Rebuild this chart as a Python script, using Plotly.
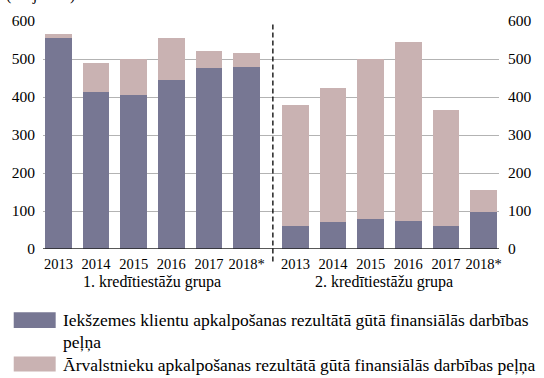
import plotly.graph_objects as go

# Profit from financial activities, million euro
years = ["2013", "2014", "2015", "2016", "2017", "2018*"]
groups = ["1. kredītiestāžu grupa", "2. kredītiestāžu grupa"]

domestic_g1 = [556, 413, 404, 446, 477, 480]
total_g1 = [566, 490, 500, 555, 521, 516]
domestic_g2 = [61, 71, 79, 74, 61, 97]
total_g2 = [378, 425, 500, 545, 365, 154]

foreign_g1 = [t - d for t, d in zip(total_g1, domestic_g1)]
foreign_g2 = [t - d for t, d in zip(total_g2, domestic_g2)]

series_names = [
    "Iekšzemes klientu apkalpošanas rezultātā gūtā finansiālās darbības",
    "peļņa",
    "Ārvalstnieku apkalpošanas rezultātā gūtā finansiālās darbības peļņa",
]
unit_label = "(milj. eiro)"
y_ticks = [0, 100, 200, 300, 400, 500, 600]

DARK = "#777793"
LIGHT = "#c9b2b2"
FONT = "'Liberation Serif', 'DejaVu Serif', serif"

# x positions: two groups of six bars with a wider gap between the groups
gap = 1.3
x1 = list(range(len(years)))
x2 = [len(years) - 1 + gap + i for i in range(len(years))]
xs = x1 + x2
domestic = domestic_g1 + domestic_g2
foreign = foreign_g1 + foreign_g2

fig = go.Figure()
fig.add_trace(go.Bar(x=xs, y=domestic, marker_color=DARK, width=0.71,
                     marker_line_width=0, showlegend=False))
fig.add_trace(go.Bar(x=xs, y=foreign, marker_color=LIGHT, width=0.71,
                     marker_line_width=0, showlegend=False))
# invisible trace to carry the right-hand axis
fig.add_trace(go.Scatter(x=[xs[0]], y=[0], yaxis="y2", mode="markers",
                         marker_opacity=0, showlegend=False, hoverinfo="skip"))

fig.update_layout(
    width=544, height=378,
    margin=dict(l=42, r=35, t=19, b=129),
    barmode="stack",
    plot_bgcolor="white", paper_bgcolor="white",
    font=dict(family=FONT, size=15, color="black"),
    xaxis=dict(range=[-0.41, xs[-1] + 0.41], tickvals=xs, ticktext=years * 2,
               showgrid=False, zeroline=False, showline=False,
               ticks="", tickfont=dict(family=FONT, size=14.5), ticklabelstandoff=4),
    yaxis=dict(range=[0, 600], tickvals=y_ticks, showgrid=True,
               gridcolor="#b3b3b3", gridwidth=1, zeroline=False, ticks="",
               tickfont=dict(family=FONT, size=15.5),
               ticklabelstandoff=7, showline=False),
    yaxis2=dict(range=[0, 600], tickvals=y_ticks, overlaying="y", side="right",
                tickfont=dict(family=FONT, size=15.5),
                showgrid=False, zeroline=False, ticks="", ticklabelstandoff=8),
)

# baseline at zero
fig.add_shape(type="line", xref="paper", yref="y", x0=0, x1=1, y0=0, y1=0,
              line=dict(color="#222222", width=1.5))

# dashed separator between the two groups
sep_x = (x1[-1] + x2[0]) / 2 + 0.05
fig.add_shape(type="line", xref="x", yref="paper", x0=sep_x, x1=sep_x,
              y0=-0.055, y1=0.987, line=dict(color="black", width=1.3, dash="5px,3px"))

# group labels
gfont = dict(family=FONT, size=16)
fig.add_annotation(x=(x1[0] + x1[-1]) / 2, y=-0.145, xref="x", yref="paper",
                   text=groups[0], showarrow=False, yanchor="middle", font=gfont)
fig.add_annotation(x=(x2[0] + x2[-1]) / 2 - 0.15, y=-0.145, xref="x", yref="paper",
                   text=groups[1], showarrow=False, yanchor="middle", font=gfont)

# unit label at the top
fig.add_annotation(x=-0.085, y=1.115, xref="paper", yref="paper", text=unit_label,
                   showarrow=False, xanchor="left", yanchor="middle",
                   font=dict(family=FONT, size=16))

# legend drawn manually
sw_x0, sw_x1 = -0.0642, 0.0278
fig.add_shape(type="rect", xref="paper", yref="paper", x0=sw_x0, x1=sw_x1,
              y0=-0.346, y1=-0.277, fillcolor=DARK, line_width=0)
fig.add_shape(type="rect", xref="paper", yref="paper", x0=sw_x0, x1=sw_x1,
              y0=-0.537, y1=-0.472, fillcolor=LIGHT, line_width=0)
lfont = dict(family=FONT, size=17.5)
for txt, yy in zip(series_names, [-0.311, -0.407, -0.507]):
    fig.add_annotation(x=0.0385, y=yy, xref="paper", yref="paper", text=txt,
                       showarrow=False, xanchor="left", yanchor="middle",
                       font=lfont)

fig.write_html("out.html")
